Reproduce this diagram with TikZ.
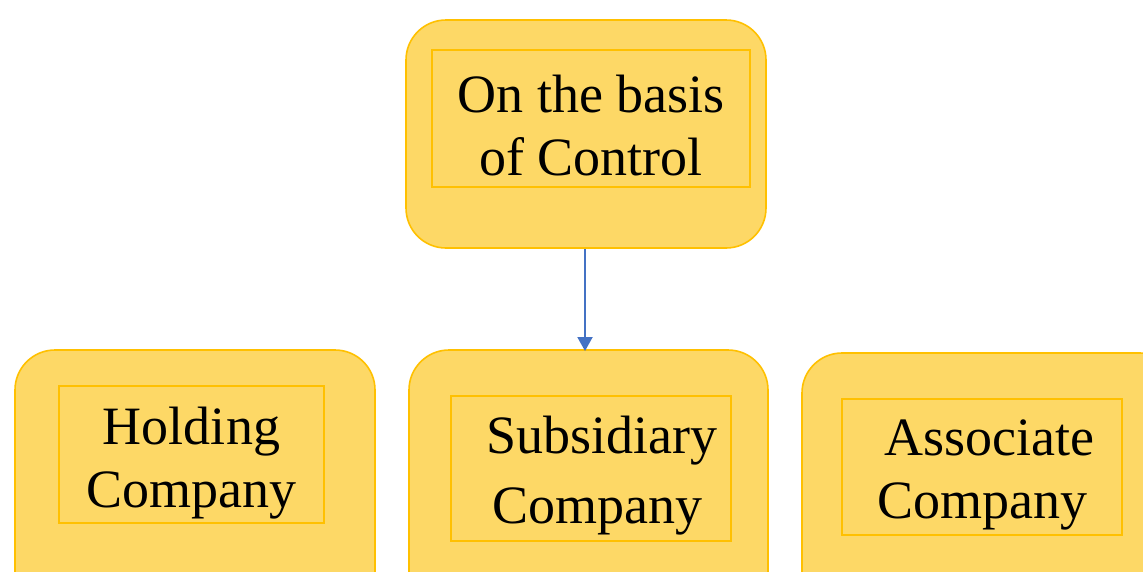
\documentclass[tikz,border=0pt]{standalone}
\usepackage{fontspec}
\setmainfont{Liberation Serif}
\usetikzlibrary{arrows.meta}
\definecolor{boxfill}{HTML}{FDD866}
\definecolor{boxline}{HTML}{FFC000}
\definecolor{arrowblue}{HTML}{4472C4}
\begin{document}
\begin{tikzpicture}[x=1pt,y=-1pt,
  outerbox/.style={draw=boxline,fill=boxfill,line width=1.6pt,rounded corners=40pt},
  innerbox/.style={draw=boxline,line width=1.4pt,inner sep=0pt},
  label/.style={inner sep=0pt,font=\fontsize{54}{63}\selectfont,align=center},
  link/.style={draw=arrowblue,line width=2pt,-{Triangle[length=14pt,width=15pt]}}]
  \useasboundingbox (0,0) rectangle (1143,571);
  \clip (0,0) rectangle (1143,571);
  % outer rounded boxes
  \draw[outerbox] (406,20) rectangle (766,248);
  \draw[outerbox] (15,350) rectangle (375,620);
  \draw[outerbox] (409,350) rectangle (768,620);
  \draw[outerbox] (802,353) rectangle (1180,620);
  \coordinate (topS) at (585,249);
  \coordinate (midN) at (585,351);
  % inner frames
  \node[innerbox,minimum width=318pt,minimum height=137pt] (ctl) at (591,118.5) {};
  \node[innerbox,minimum width=265pt,minimum height=137pt] (hold) at (191.5,454.5) {};
  \node[innerbox,minimum width=280pt,minimum height=145pt] (sub) at (591,468.5) {};
  \node[innerbox,minimum width=280pt,minimum height=136pt] (assoc) at (982,467) {};
  % labels (text sits a little below the frame centre)
  \node[label] (ctlT) at ([yshift=-7pt]ctl.center) {On the basis\\of Control};
  \node[label] (holdT) at ([yshift=-9pt]hold.center) {Holding\\Company};
  \node[label] (subT) at ([xshift=6pt,yshift=-7pt]sub.center) {\,Subsidiary\\[7pt]Company};
  \node[label] (assocT) at ([yshift=-8pt]assoc.center) {\;Associate\\Company};
  % connector
  \draw[link] (topS) -- (midN);
\end{tikzpicture}
\end{document}
